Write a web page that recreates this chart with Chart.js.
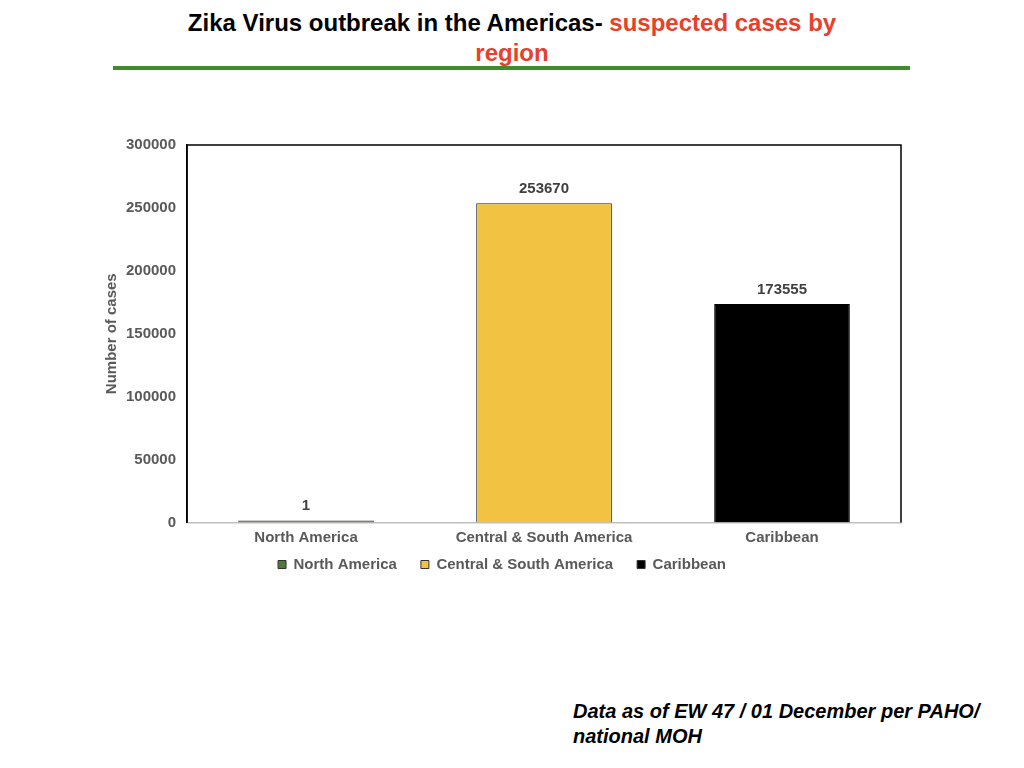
<!DOCTYPE html>
<html>
<head>
<meta charset="utf-8">
<script src="https://cdn.jsdelivr.net/npm/chart.js@4.4.0/dist/chart.umd.min.js"></script>
<style>
  html, body { margin: 0; padding: 0; background: #fff; }
  body { width: 1024px; height: 768px; position: relative; overflow: hidden;
         font-family: "Liberation Sans", Arial, sans-serif; }
  #title { position: absolute; left: 0; width: 1024px; top: 8px; text-align: center;
           font-weight: bold; font-size: 24px; line-height: 30px; color: #000; }
  #title span { color: #e8402a; }
  #rule { position: absolute; left: 113px; width: 797px; top: 66px; height: 4px; background: #3f8c2d; }
  #wrap { position: absolute; left: 95px; top: 125px; width: 830px; height: 457px; }
  #note { position: absolute; left: 573px; top: 699px; font-weight: bold; font-style: italic;
          font-size: 20px; line-height: 25px; color: #000; }
</style>
</head>
<body>
<div id="title">Zika Virus outbreak in the Americas- <span>suspected cases by<br>region</span></div>
<div id="rule"></div>
<div id="wrap"><canvas id="zikaChart"></canvas></div>
<div id="note">Data as of EW 47 / 01 December per PAHO/<br>national MOH</div>
<script>
// datos del gráfico
const regiones = ['North America', 'Central & South America', 'Caribbean'];
const casos = [1, 253670, 173555];
const coloresRelleno = ['#4f7b36', '#f2c343', '#000000'];
const coloresBorde = ['#3a3a3a', '#262626', '#000000'];
const ticksY = [0, 50000, 100000, 150000, 200000, 250000, 300000];

window.addEventListener('DOMContentLoaded', () => {
  Chart.defaults.font.family = '"Liberation Sans", Arial, sans-serif';
  Chart.defaults.font.weight = 'bold';
  Chart.defaults.font.size = 15;
  Chart.defaults.color = '#595959';

  // marco negro alrededor del área del gráfico
  const marco = {
    id: 'marco',
    afterDraw(chart) {
      const { ctx, chartArea: a } = chart;
      ctx.save();
      ctx.strokeStyle = '#000';
      ctx.lineWidth = 1.5;
      ctx.beginPath();
      ctx.moveTo(a.left, a.bottom);
      ctx.lineTo(a.left, a.top);
      ctx.lineTo(a.right, a.top);
      ctx.lineTo(a.right, a.bottom);
      ctx.stroke();
      ctx.restore();
    }
  };

  // etiquetas con el valor sobre cada barra
  const etiquetas = {
    id: 'etiquetas',
    afterDatasetsDraw(chart) {
      const { ctx } = chart;
      const meta = chart.getDatasetMeta(0);
      ctx.save();
      ctx.font = 'bold 15px "Liberation Sans", Arial, sans-serif';
      ctx.fillStyle = '#404040';
      ctx.textAlign = 'center';
      ctx.textBaseline = 'bottom';
      meta.data.forEach((bar, i) => {
        ctx.fillText(String(casos[i]), bar.x, bar.y - 7);
      });
      ctx.restore();
    }
  };

  const ctx = document.getElementById('zikaChart').getContext('2d');
  new Chart(ctx, {
    type: 'bar',
    data: {
      labels: regiones,
      datasets: [{
        label: 'Number of cases',
        data: casos,
        backgroundColor: coloresRelleno,
        borderColor: coloresBorde,
        borderWidth: 1,
        minBarLength: 2,
        barPercentage: 0.57,
        categoryPercentage: 1
      }]
    },
    options: {
      responsive: true,
      maintainAspectRatio: false,
      animation: false,
      layout: { padding: { top: 19, right: 24, left: 8, bottom: 0 } },
      plugins: {
        tooltip: { enabled: false },
        legend: {
          position: 'bottom',
          labels: {
            boxWidth: 8,
            boxHeight: 8,
            padding: 24,
            font: { size: 15, weight: 'bold' },
            generateLabels: () => regiones.map((r, i) => ({
              text: r,
              fillStyle: coloresRelleno[i],
              strokeStyle: '#333',
              fontColor: '#595959',
              lineWidth: 1,
              hidden: false,
              index: i
            }))
          }
        }
      },
      scales: {
        x: {
          grid: { display: false, drawTicks: false },
          border: { color: '#bfbfbf', width: 1.5 },
          // etiquetas sin recorte, colocadas bajo el eje
          ticks: { mirror: true, padding: -24, color: '#595959' },
          afterFit: (axis) => { axis.height = 10.5; }
        },
        y: {
          min: 0,
          max: 300000,
          grid: { display: false, drawTicks: false },
          border: { color: '#000', width: 1.5 },
          afterBuildTicks: (axis) => { axis.ticks = ticksY.map(v => ({ value: v })); },
          ticks: { padding: 11, color: '#595959', callback: (v) => String(v) },
          title: {
            display: true,
            text: 'Number of cases',
            color: '#595959',
            font: { size: 15, weight: 'bold' },
            padding: { top: 0, bottom: -6 }
          }
        }
      }
    },
    plugins: [marco, etiquetas]
  });
});
</script>
</body>
</html>
